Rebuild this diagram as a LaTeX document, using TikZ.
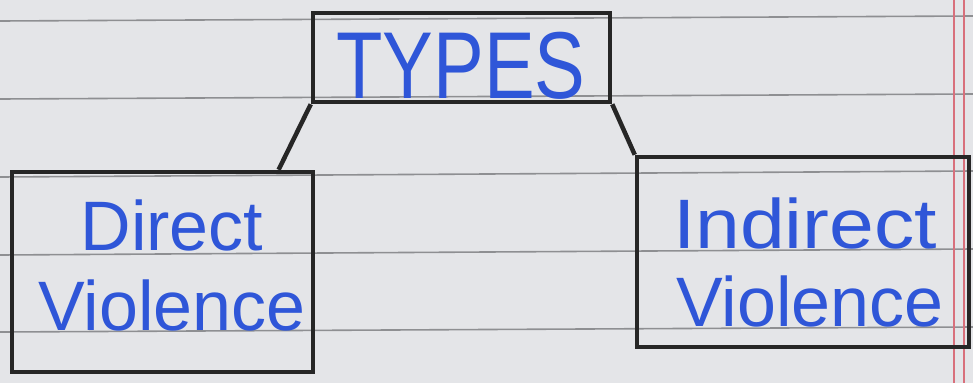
\documentclass[tikz,border=0pt]{standalone}
\usepackage{fontspec}
\setmainfont{Liberation Sans}
\usetikzlibrary{calc}
\definecolor{paper}{HTML}{E4E5E8}
\definecolor{ruling}{HTML}{8E8F92}
\definecolor{ink}{HTML}{2F56D8}
\definecolor{marginred}{HTML}{D8707C}
\begin{document}
\begin{tikzpicture}[x=1pt,y=-1pt,
  box/.style={draw=black!85, line width=4.5pt, inner sep=0pt},
  conn/.style={draw=black!85, line width=4.5pt},
  lbl/.style={text=ink, font=\fontsize{70}{70}\selectfont, anchor=base, inner sep=0pt},
  ruleline/.style={draw=ruling, line width=1.6pt},
  marginline/.style={draw=marginred, line width=1.8pt}]
\fill[paper] (0,0) rectangle (973,383);
\useasboundingbox (0,0) rectangle (973,383);
% ruled paper
\foreach \a/\b in {21/16, 99/94, 177/171, 255/249, 332/327}
  \draw[ruleline] (0,\a) -- (973,\b);
\draw[marginline] (954,0) -- (954,383);
\draw[marginline] (964,0) -- (964,383);
% boxes
\node[box, minimum width=297pt, minimum height=89pt] (types) at (461.5,57.5) {};
\node[box, minimum width=301pt, minimum height=200pt] (direct) at (162.5,272) {};
\node[box, minimum width=332pt, minimum height=190pt] (indirect) at (803,252) {};
% connectors
\draw[conn] (types.south west) -- ($(direct.north west)!0.88!(direct.north east)$);
\draw[conn] (types.south east) -- (indirect.north west);
% labels
\node[lbl, font=\fontsize{95}{95}\selectfont, xscale=0.8] (t1) at (461,98) {TYPES};
\node[lbl] (d1) at (172,250) {Direct};
\node[lbl] (d2) at (172,330) {Violence};
\node[lbl, xscale=1.15] (i1) at (805,248) {Indirect};
\node[lbl] (i2) at (810,326) {Violence};
\end{tikzpicture}
\end{document}
